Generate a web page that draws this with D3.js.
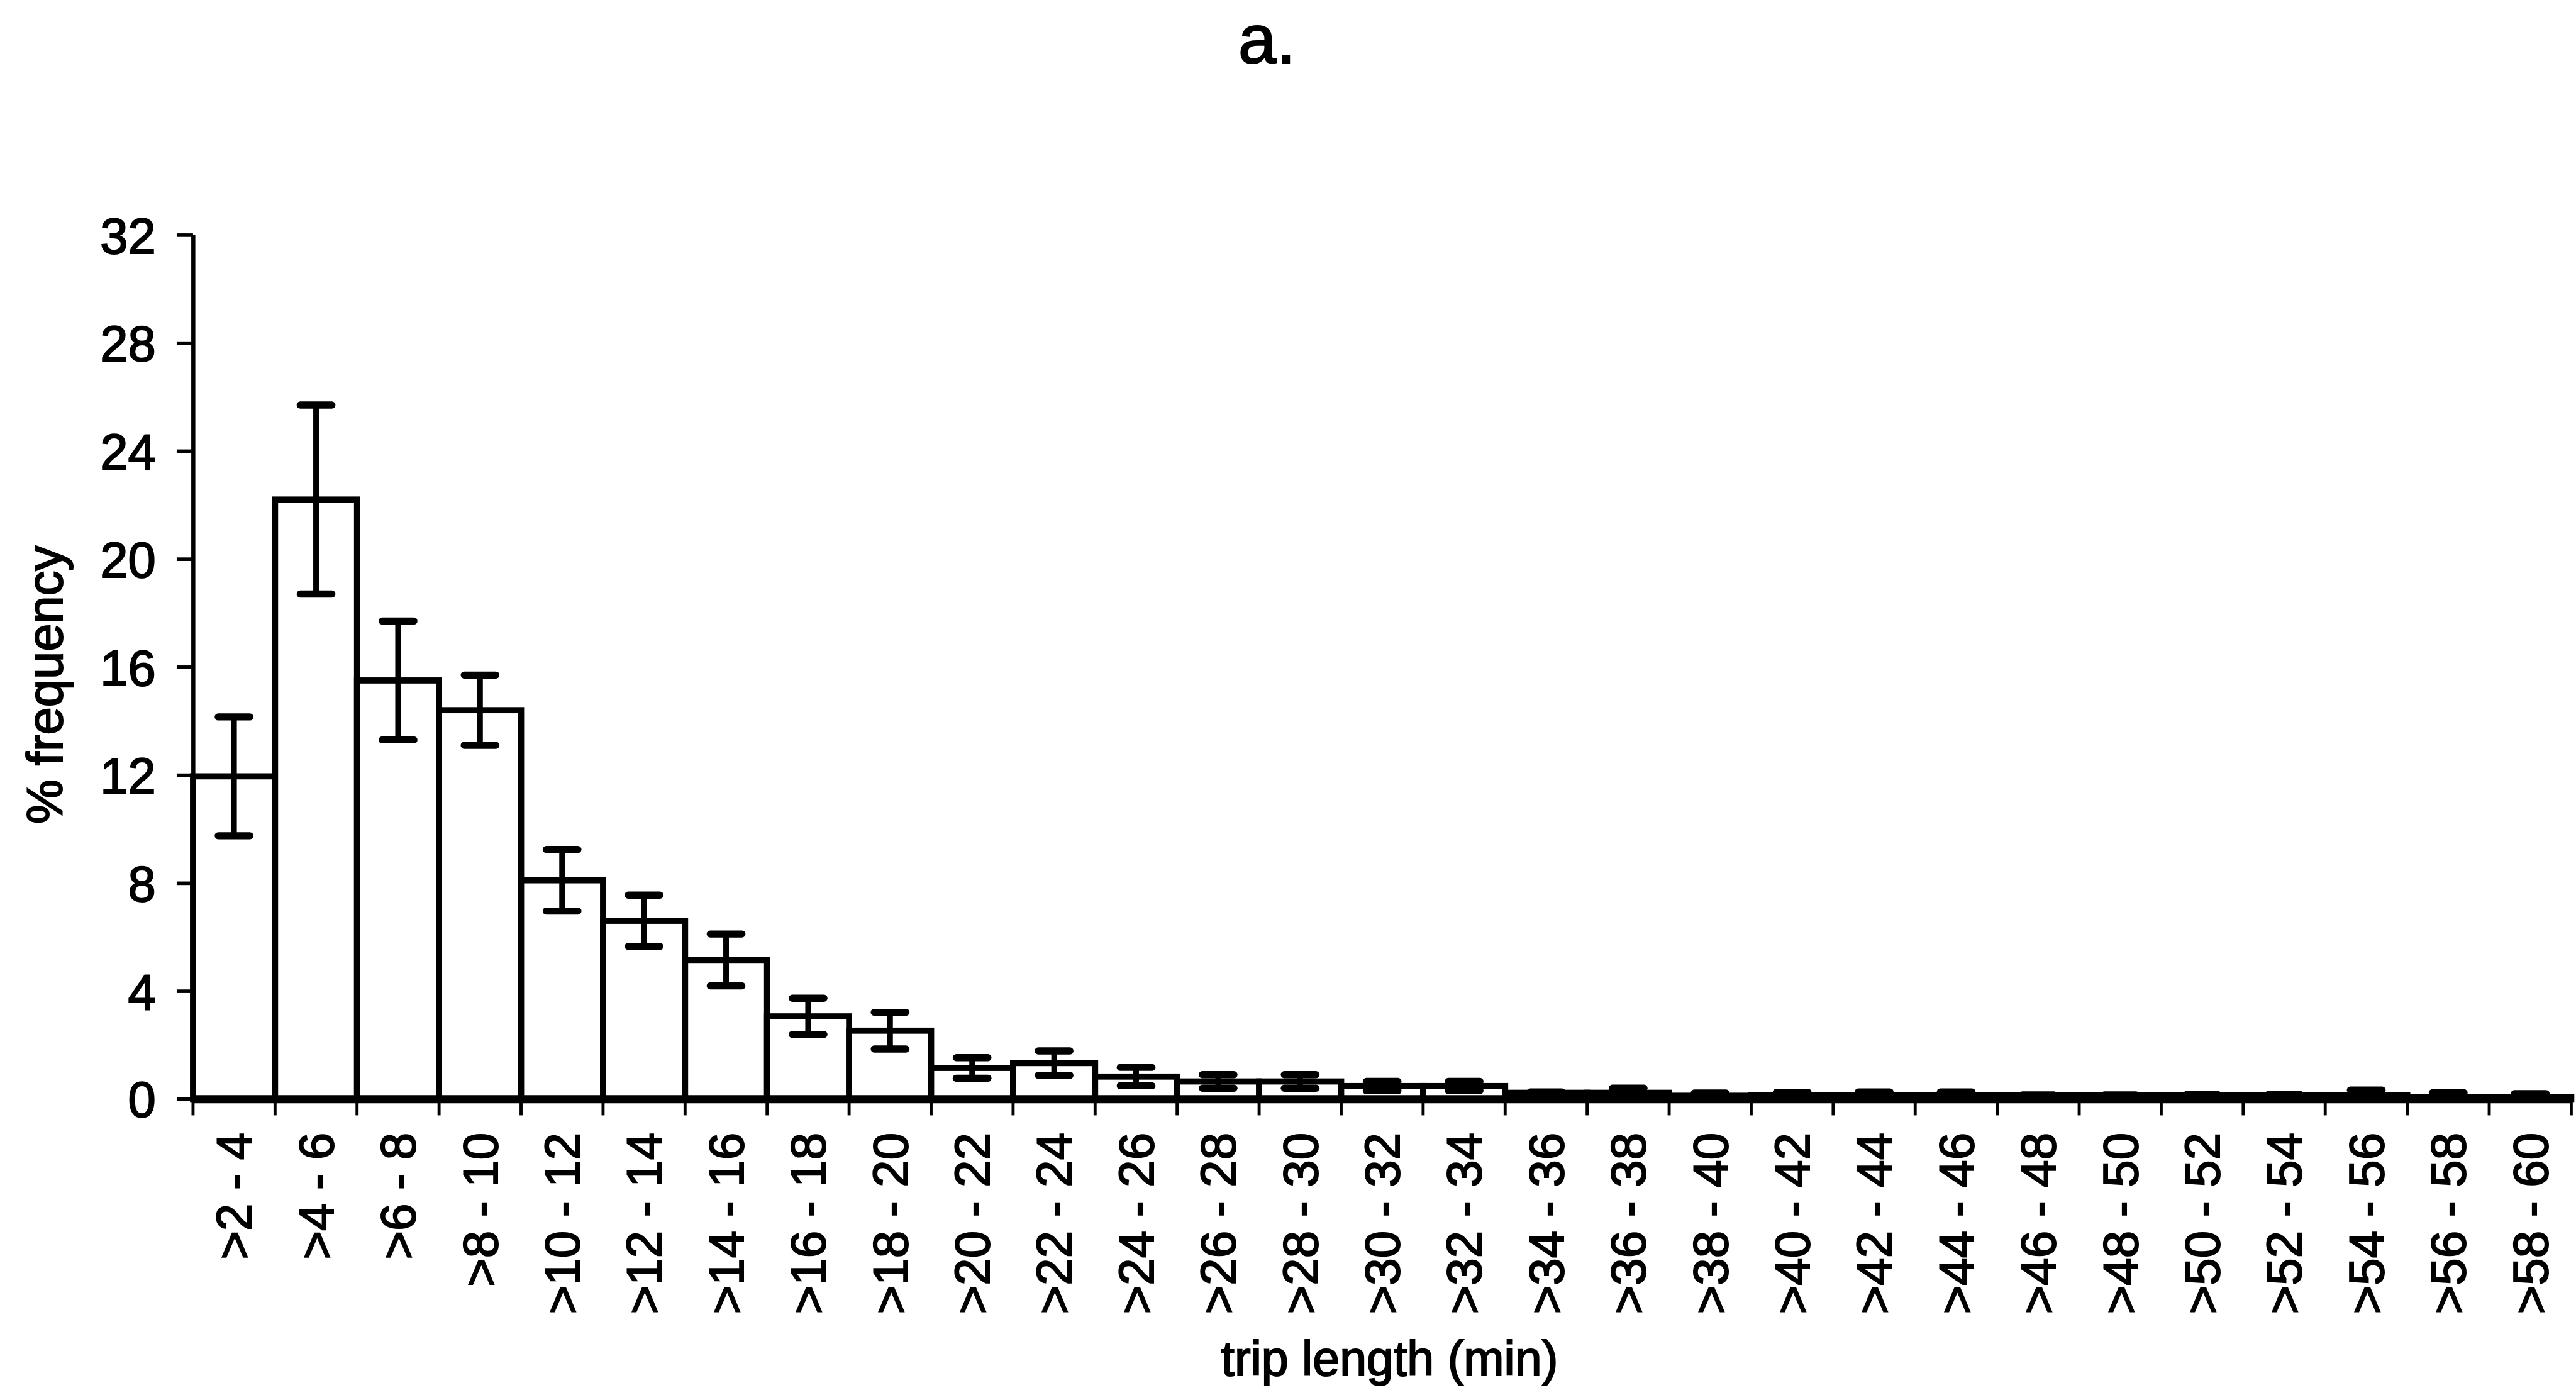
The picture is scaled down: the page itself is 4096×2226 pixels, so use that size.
<!DOCTYPE html>
<html>
<head>
<meta charset="utf-8">
<script src="https://cdn.jsdelivr.net/npm/d3@7"></script>
<style>
  html, body { margin: 0; padding: 0; background: #fff; }
  svg { display: block; }
  text { font-family: "Liberation Sans", Arial, Helvetica, sans-serif; fill: #000; stroke: #000; stroke-width: 2.5px; }
</style>
</head>
<body>
<svg id="chart" width="4096" height="2226"></svg>
<script>
// Trip-length classes (minutes)
const categories = [
  ">2 - 4", ">4 - 6", ">6 - 8", ">8 - 10", ">10 - 12", ">12 - 14", ">14 - 16",
  ">16 - 18", ">18 - 20", ">20 - 22", ">22 - 24", ">24 - 26", ">26 - 28",
  ">28 - 30", ">30 - 32", ">32 - 34", ">34 - 36", ">36 - 38", ">38 - 40",
  ">40 - 42", ">42 - 44", ">44 - 46", ">46 - 48", ">48 - 50", ">50 - 52",
  ">52 - 54", ">54 - 56", ">56 - 58", ">58 - 60"
];

// Mean % frequency per class
const frequency = [
  11.95, 22.2, 15.5, 14.4, 8.1, 6.6, 5.15,
  3.06, 2.53, 1.15, 1.33, 0.83, 0.65,
  0.65, 0.48, 0.48, 0.23, 0.23, 0.12,
  0.14, 0.14, 0.14, 0.13, 0.13, 0.14,
  0.14, 0.15, 0.08, 0.08
];

// Error bar half-length per class
const errorHalf = [
  2.2, 3.5, 2.2, 1.3, 1.14, 0.95, 0.96,
  0.67, 0.68, 0.38, 0.45, 0.34, 0.25,
  0.25, 0.17, 0.17, 0.03, 0.17, 0.1,
  0.11, 0.12, 0.12, 0.02, 0.02, 0.02,
  0.03, 0.18, 0.15, 0.12
];

const yTicks = [0, 4, 8, 12, 16, 20, 24, 28, 32];

const titleText = "a.";
const yTitle = "% frequency";
const xTitle = "trip length (min)";

// Layout is expressed in a 5039 x 2738 design space, then scaled to the window.
const SCALE = 0.812;
const svg = d3.select("#chart");
const root = svg.append("g").attr("transform", `scale(${SCALE})`);

const x = d3.scaleBand().domain(categories).range([378, 5035]).padding(0);
const y = d3.scaleLinear().domain([0, 32]).range([2152, 460]);

const rows = categories.map((c, i) => ({ c, v: frequency[i], e: errorHalf[i] }));

// Bars
root.append("g").attr("class", "bars")
  .selectAll("rect").data(rows).join("rect")
  .attr("x", d => x(d.c))
  .attr("y", d => y(d.v))
  .attr("width", x.bandwidth())
  .attr("height", d => y(0) - y(d.v))
  .attr("fill", "#fff")
  .attr("stroke", "#000")
  .attr("stroke-width", 12);

// Error bars
const capHalf = 31;
const eb = root.append("g").attr("class", "errorbars")
  .selectAll("g").data(rows).join("g")
  .attr("transform", d => `translate(${x(d.c) + x.bandwidth() / 2},0)`);
eb.append("line")
  .attr("y1", d => y(d.v + d.e)).attr("y2", d => y(Math.max(0, d.v - d.e)))
  .attr("stroke", "#000").attr("stroke-width", 11);
eb.selectAll("line.cap").data(d => [d.v + d.e, Math.max(0, d.v - d.e)]).join("line")
  .attr("class", "cap")
  .attr("x1", -capHalf).attr("x2", capHalf)
  .attr("y1", v => y(v)).attr("y2", v => y(v))
  .attr("stroke", "#000").attr("stroke-width", 14).attr("stroke-linecap", "round");

// Y axis
const yAxis = root.append("g").attr("transform", `translate(${x.range()[0]},0)`)
  .call(d3.axisLeft(y).tickValues(yTicks).tickFormat(d3.format("d"))
    .tickSize(32).tickSizeOuter(0).tickPadding(41));
yAxis.select(".domain").attr("stroke", "#000").attr("stroke-width", 8);
yAxis.selectAll(".tick line").attr("stroke", "#000").attr("stroke-width", 7);
yAxis.selectAll(".tick text")
  .attr("font-size", 98).attr("font-family", null).attr("dy", "0.36em");

// X axis: baseline, class boundary ticks and rotated class labels
const y0 = y(0);
const xAxis = root.append("g").attr("transform", `translate(0,${y0})`)
  .call(d3.axisBottom(x).tickSize(0).tickPadding(0).tickSizeOuter(0));
xAxis.select(".domain").attr("stroke", "#000").attr("stroke-width", 16);
xAxis.selectAll(".tick text")
  .attr("font-size", 96).attr("font-family", null)
  .attr("text-anchor", "end")
  .attr("transform", "rotate(-90)")
  .attr("x", -66).attr("y", 0).attr("dy", "0.35em");

const bounds = categories.map(c => x(c)).concat([x.range()[1]]);
xAxis.append("g").attr("class", "bounds")
  .selectAll("line").data(bounds).join("line")
  .attr("x1", d => d).attr("x2", d => d)
  .attr("y1", 0).attr("y2", 32)
  .attr("stroke", "#000").attr("stroke-width", 6);

// Titles
root.append("text")
  .attr("x", 2481).attr("y", 123)
  .attr("text-anchor", "middle").attr("font-size", 135)
  .text(titleText);

root.append("text")
  .attr("transform", "translate(122,1341) rotate(-90)")
  .attr("text-anchor", "middle").attr("font-size", 98)
  .text(yTitle);

root.append("text")
  .attr("x", 2721).attr("y", 2693)
  .attr("text-anchor", "middle").attr("font-size", 95)
  .text(xTitle);
</script>
</body>
</html>
